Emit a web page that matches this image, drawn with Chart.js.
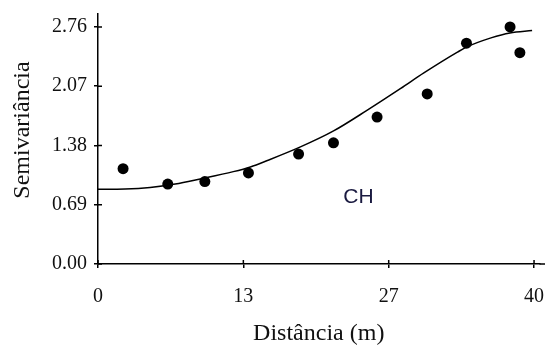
<!DOCTYPE html>
<html>
<head>
<meta charset="utf-8">
<script src="https://cdn.jsdelivr.net/npm/chart.js@4.4.1/dist/chart.umd.min.js"></script>
<style>
  html, body { margin: 0; padding: 0; background: #fff; }
  #wrap { width: 545px; height: 347px; }
</style>
</head>
<body>
<div id="wrap"><canvas id="c" width="545" height="347"></canvas></div>
<script>
// Observed semivariance points
const pointX = [2.3, 6.4, 9.8, 13.8, 18.4, 21.6, 25.6, 30.2, 33.8, 37.8, 38.7];
const pointY = [1.11, 0.93, 0.96, 1.06, 1.28, 1.41, 1.71, 1.98, 2.57, 2.76, 2.46];

// Fitted model curve
const curveX = [0, 2.48, 4.78, 7.08, 9.38, 12.41, 13.98, 15.54, 18.57, 21.61, 24.74, 27.77, 29.89, 33.01, 33.84, 36.05, 37.79, 39.82];
const curveY = [0.87, 0.873, 0.89, 0.93, 0.99, 1.075, 1.13, 1.205, 1.363, 1.549, 1.794, 2.044, 2.224, 2.469, 2.527, 2.632, 2.69, 2.717];

// Tick values and labels
const xTickValues = [0, 40/3, 80/3, 40];
const xTickLabels = ['0', '13', '27', '40'];
const yTickValues = [0, 0.69, 1.38, 2.07, 2.76];
const yTickLabels = ['0.00', '0.69', '1.38', '2.07', '2.76'];

const xTitle = 'Distância (m)';
const yTitle = 'Semivariância';
const annotationText = 'CH';
const annotationAt = { x: 23.9, y: 0.774 };

const tickFont = { family: 'Liberation Serif', size: 20 };
const titleFont = { family: 'Liberation Serif', size: 24, lineHeight: 1.1 };

const extras = {
  id: 'extras',
  afterDatasetsDraw(chart) {
    const { ctx, scales: { x, y } } = chart;
    ctx.save();
    ctx.strokeStyle = '#000';
    ctx.lineWidth = 1.5;
    ctx.beginPath();
    const x0 = x.getPixelForValue(0);
    yTickValues.forEach(v => {
      const py = y.getPixelForValue(v);
      ctx.moveTo(x0, py); ctx.lineTo(x0 + 4, py);
    });
    const y0 = y.getPixelForValue(0);
    xTickValues.forEach(v => {
      const px = x.getPixelForValue(v);
      ctx.moveTo(px, y0); ctx.lineTo(px, y0 - 4);
    });
    // axis line runs on to the right edge
    ctx.moveTo(x.right, y0); ctx.lineTo(chart.width, y0);
    ctx.stroke();
    // annotation
    ctx.fillStyle = '#1a1a40';
    ctx.font = '21px "Liberation Sans"';
    ctx.textAlign = 'center';
    ctx.textBaseline = 'middle';
    ctx.fillText(annotationText, x.getPixelForValue(annotationAt.x), y.getPixelForValue(annotationAt.y));
    // y axis title
    ctx.fillStyle = '#111';
    ctx.font = '24px "Liberation Serif"';
    ctx.translate(23, (y.top + y.bottom) / 2 - 9);
    ctx.rotate(-Math.PI / 2);
    ctx.fillText(yTitle, 0, 0);
    ctx.restore();
  }
};

new Chart(document.getElementById('c'), {
  type: 'scatter',
  data: {
    datasets: [
      {
        label: 'model',
        data: curveX.map((v, i) => ({ x: v, y: curveY[i] })),
        showLine: true,
        borderColor: '#000',
        borderWidth: 1.5,
        pointRadius: 0,
        cubicInterpolationMode: 'monotone',
        fill: false
      },
      {
        label: 'observed',
        data: pointX.map((v, i) => ({ x: v, y: pointY[i] })),
        showLine: false,
        pointRadius: 5.5,
        pointBackgroundColor: '#000',
        pointBorderColor: '#000',
        pointBorderWidth: 0
      }
    ]
  },
  options: {
    responsive: false,
    animation: false,
    layout: { padding: { top: 14, right: 0, left: 0, bottom: 0 } },
    plugins: { legend: { display: false }, tooltip: { enabled: false } },
    scales: {
      x: {
        type: 'linear',
        min: 0,
        max: 40.5,
        afterBuildTicks: s => { s.ticks = xTickValues.map(v => ({ value: v })); },
        afterFit: s => { s.height = 83; s.paddingLeft = 0; s.paddingRight = 0; },
        ticks: {
          callback: (v, i) => xTickLabels[i],
          font: tickFont,
          color: '#111',
          padding: 17,
          maxRotation: 0,
          autoSkip: false
        },
        grid: { display: true, drawOnChartArea: false, drawTicks: true, tickLength: 4, color: '#000', lineWidth: 1.5 },
        border: { display: true, color: '#000', width: 1.5 },
        title: { display: true, text: xTitle, font: titleFont, color: '#111', padding: { top: 0, bottom: 0 } }
      },
      y: {
        type: 'linear',
        min: 0,
        max: 2.91,
        afterBuildTicks: s => { s.ticks = yTickValues.map(v => ({ value: v })); },
        afterFit: s => { s.width = 98; s.paddingTop = 0; s.paddingBottom = 0; },
        ticks: {
          callback: (v, i) => yTickLabels[i],
          font: tickFont,
          color: '#111',
          padding: 7,
          autoSkip: false
        },
        grid: { display: true, drawOnChartArea: false, drawTicks: true, tickLength: 4, color: '#000', lineWidth: 1.5 },
        border: { display: true, color: '#000', width: 1.5 },
        title: { display: false }
      }
    }
  },
  plugins: [extras]
});
</script>
</body>
</html>
